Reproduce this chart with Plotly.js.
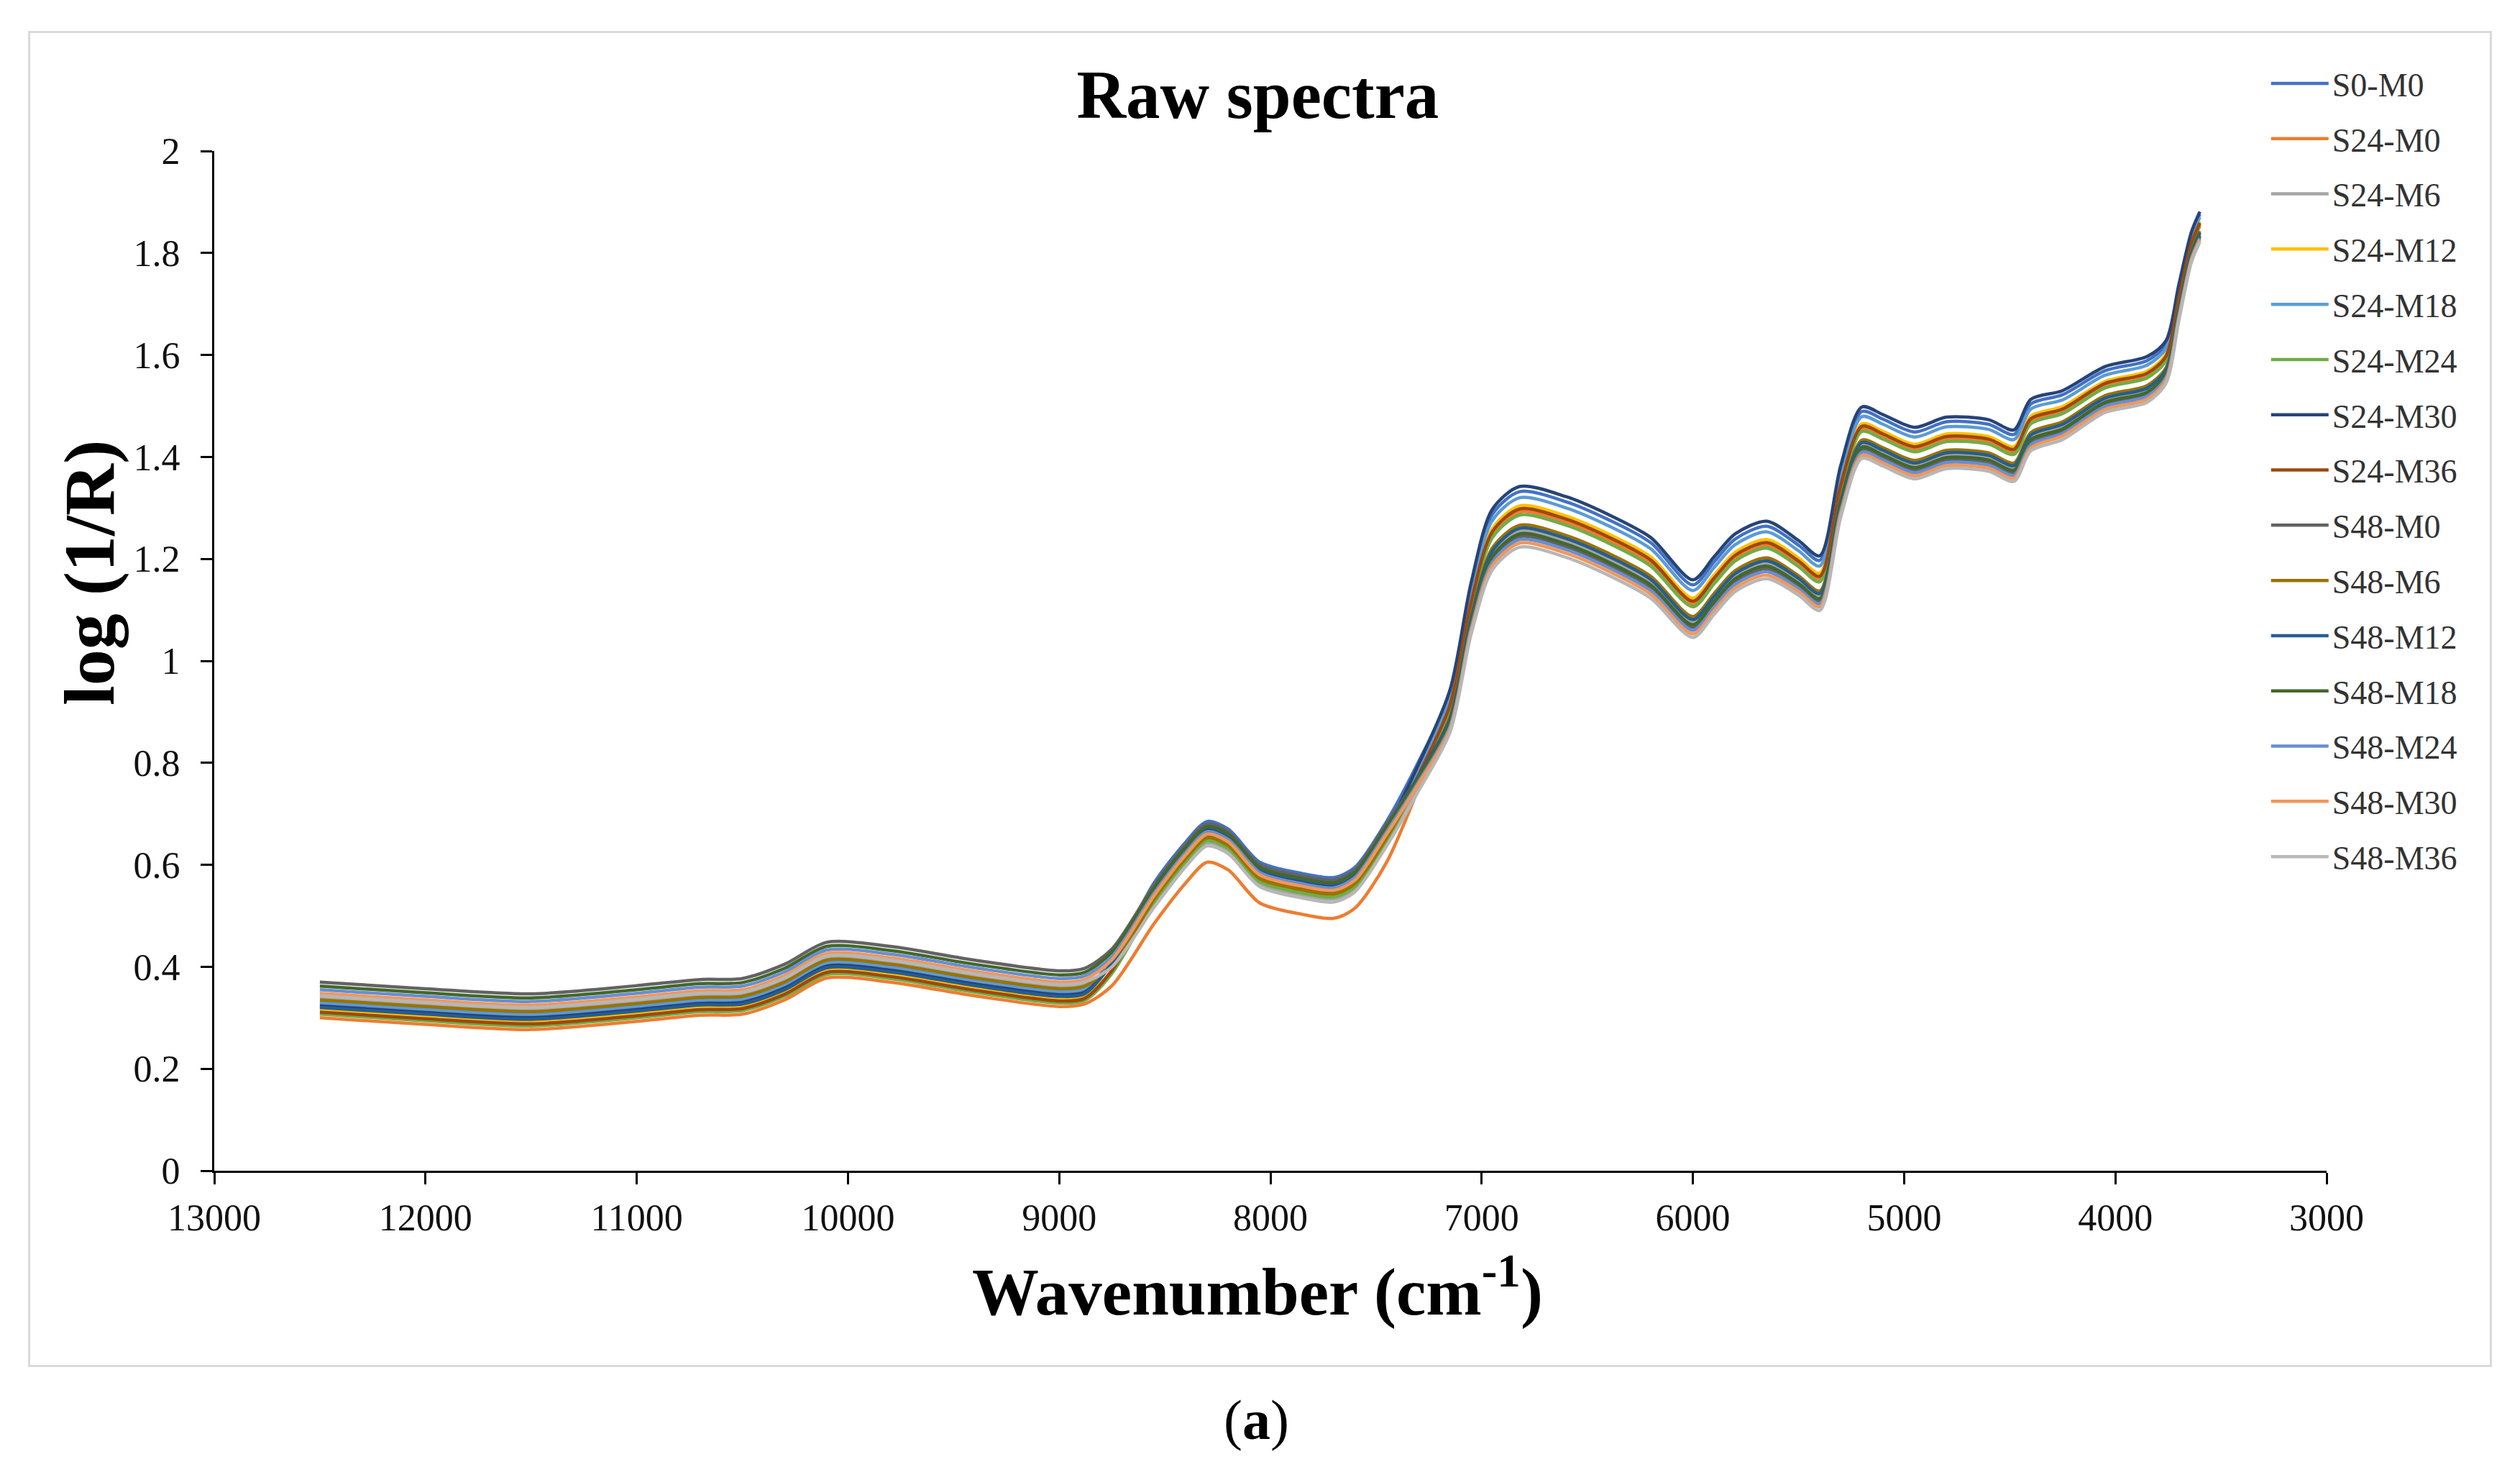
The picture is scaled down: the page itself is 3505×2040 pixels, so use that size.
<!DOCTYPE html>
<html>
<head>
<meta charset="utf-8">
<script src="https://cdn.plot.ly/plotly-3.0.1.min.js"></script>
<style>
  html, body { margin: 0; padding: 0; background: #ffffff; }
  #frame { position: absolute; left: 39px; top: 43px; width: 3421px; height: 1852px; border: 3px solid #d9d9d9; box-sizing: content-box; }
  #chart { position: absolute; left: 0; top: 0; width: 3505px; height: 2040px; }
</style>
</head>
<body>
<div id="frame"></div>
<div id="chart"></div>
<script>
const wavenumber = [12500,12000,11500,11000,10700,10500,10300,10100,9800,9400,9000,8880,8750,8550,8400,8300,8200,8050,7850,7700,7600,7450,7300,7150,7050,6950,6820,6600,6400,6200,6000,5900,5800,5650,5500,5400,5300,5200,5100,4950,4800,4600,4480,4400,4250,4050,3850,3760,3700,3640,3600];

const s0m0   = [0.327,0.314,0.304,0.320,0.332,0.334,0.362,0.405,0.397,0.370,0.349,0.354,0.416,0.565,0.645,0.685,0.670,0.605,0.583,0.575,0.595,0.685,0.801,0.936,1.144,1.287,1.332,1.312,1.277,1.232,1.149,1.194,1.239,1.264,1.227,1.197,1.374,1.489,1.474,1.449,1.469,1.464,1.444,1.504,1.522,1.569,1.589,1.621,1.731,1.836,1.876];
const s24m0  = [0.300,0.287,0.277,0.293,0.305,0.307,0.335,0.378,0.370,0.343,0.322,0.327,0.363,0.485,0.565,0.605,0.590,0.525,0.503,0.495,0.515,0.605,0.749,0.908,1.110,1.247,1.292,1.272,1.237,1.192,1.111,1.156,1.201,1.226,1.191,1.161,1.340,1.455,1.440,1.415,1.435,1.430,1.410,1.470,1.490,1.539,1.559,1.593,1.707,1.816,1.856];
const s24m6  = [0.340,0.327,0.317,0.333,0.345,0.347,0.375,0.418,0.410,0.383,0.362,0.367,0.402,0.523,0.603,0.643,0.628,0.563,0.541,0.533,0.553,0.643,0.756,0.882,1.078,1.209,1.254,1.234,1.199,1.154,1.075,1.120,1.165,1.190,1.157,1.127,1.308,1.423,1.408,1.383,1.403,1.398,1.378,1.438,1.459,1.511,1.531,1.567,1.684,1.797,1.837];
const s24m12 = [0.315,0.302,0.292,0.308,0.320,0.322,0.350,0.393,0.385,0.358,0.337,0.342,0.393,0.531,0.611,0.651,0.636,0.571,0.549,0.541,0.561,0.651,0.775,0.917,1.120,1.259,1.304,1.284,1.249,1.204,1.123,1.168,1.213,1.238,1.202,1.172,1.350,1.465,1.450,1.425,1.445,1.440,1.420,1.480,1.499,1.548,1.568,1.602,1.714,1.822,1.862];
const s24m18 = [0.330,0.317,0.307,0.323,0.335,0.337,0.365,0.408,0.400,0.373,0.352,0.357,0.409,0.547,0.627,0.667,0.652,0.587,0.565,0.557,0.577,0.667,0.788,0.928,1.134,1.275,1.320,1.300,1.265,1.220,1.138,1.183,1.228,1.253,1.216,1.186,1.364,1.479,1.464,1.439,1.459,1.454,1.434,1.494,1.512,1.560,1.580,1.613,1.724,1.830,1.870];
const s24m24 = [0.307,0.294,0.284,0.300,0.312,0.314,0.342,0.385,0.377,0.350,0.329,0.334,0.387,0.527,0.607,0.647,0.632,0.567,0.545,0.537,0.557,0.647,0.768,0.904,1.105,1.241,1.286,1.266,1.231,1.186,1.106,1.151,1.196,1.221,1.185,1.155,1.335,1.450,1.435,1.410,1.430,1.425,1.405,1.465,1.485,1.535,1.555,1.589,1.704,1.813,1.853];
const s24m30 = [0.323,0.310,0.300,0.316,0.328,0.330,0.358,0.401,0.393,0.366,0.345,0.350,0.407,0.550,0.630,0.670,0.655,0.590,0.568,0.560,0.580,0.670,0.796,0.943,1.153,1.297,1.342,1.322,1.287,1.242,1.159,1.204,1.249,1.274,1.236,1.206,1.383,1.498,1.483,1.458,1.478,1.473,1.453,1.513,1.530,1.577,1.597,1.628,1.737,1.841,1.881];
const s24m36 = [0.311,0.298,0.288,0.304,0.316,0.318,0.346,0.389,0.381,0.354,0.333,0.338,0.393,0.535,0.615,0.655,0.640,0.575,0.553,0.545,0.565,0.655,0.775,0.913,1.115,1.253,1.298,1.278,1.243,1.198,1.117,1.162,1.207,1.232,1.196,1.166,1.345,1.460,1.445,1.420,1.440,1.435,1.415,1.475,1.494,1.544,1.564,1.598,1.711,1.819,1.859];
const s48m0  = [0.370,0.357,0.347,0.363,0.375,0.377,0.405,0.448,0.440,0.413,0.392,0.397,0.435,0.560,0.640,0.680,0.665,0.600,0.578,0.570,0.590,0.680,0.772,0.875,1.069,1.199,1.244,1.224,1.189,1.144,1.066,1.111,1.156,1.181,1.148,1.118,1.299,1.414,1.399,1.374,1.394,1.389,1.369,1.429,1.451,1.503,1.523,1.560,1.678,1.792,1.832];
const s48m6  = [0.335,0.322,0.312,0.328,0.340,0.342,0.370,0.413,0.405,0.378,0.357,0.362,0.404,0.533,0.613,0.653,0.638,0.573,0.551,0.543,0.563,0.653,0.765,0.890,1.088,1.221,1.266,1.246,1.211,1.166,1.087,1.132,1.177,1.202,1.167,1.137,1.318,1.433,1.418,1.393,1.413,1.408,1.388,1.448,1.469,1.520,1.540,1.575,1.692,1.803,1.843];
const s48m12 = [0.320,0.307,0.297,0.313,0.325,0.327,0.355,0.398,0.390,0.363,0.342,0.347,0.407,0.553,0.633,0.673,0.658,0.593,0.571,0.563,0.583,0.673,0.773,0.886,1.083,1.215,1.260,1.240,1.205,1.160,1.081,1.126,1.171,1.196,1.162,1.132,1.313,1.428,1.413,1.388,1.408,1.403,1.383,1.443,1.464,1.515,1.535,1.571,1.688,1.800,1.840];
const s48m18 = [0.362,0.349,0.339,0.355,0.367,0.369,0.397,0.440,0.432,0.405,0.384,0.389,0.429,0.555,0.635,0.675,0.660,0.595,0.573,0.565,0.585,0.675,0.771,0.878,1.074,1.204,1.249,1.229,1.194,1.149,1.071,1.116,1.161,1.186,1.152,1.122,1.304,1.419,1.404,1.379,1.399,1.394,1.374,1.434,1.455,1.507,1.527,1.563,1.681,1.794,1.834];
const s48m24 = [0.355,0.342,0.332,0.348,0.360,0.362,0.390,0.433,0.425,0.398,0.377,0.382,0.420,0.545,0.625,0.665,0.650,0.585,0.563,0.555,0.575,0.665,0.762,0.871,1.064,1.193,1.238,1.218,1.183,1.138,1.060,1.105,1.150,1.175,1.142,1.112,1.294,1.409,1.394,1.369,1.389,1.384,1.364,1.424,1.446,1.499,1.519,1.556,1.675,1.789,1.829];
const s48m30 = [0.348,0.335,0.325,0.341,0.353,0.355,0.383,0.426,0.418,0.391,0.370,0.375,0.414,0.540,0.620,0.660,0.645,0.580,0.558,0.550,0.570,0.660,0.758,0.866,1.058,1.186,1.231,1.211,1.176,1.131,1.053,1.098,1.143,1.168,1.136,1.106,1.288,1.403,1.388,1.363,1.383,1.378,1.358,1.418,1.441,1.493,1.513,1.551,1.671,1.786,1.826];
const s48m36 = [0.343,0.330,0.320,0.336,0.348,0.350,0.378,0.421,0.413,0.386,0.365,0.370,0.400,0.517,0.597,0.637,0.622,0.557,0.535,0.527,0.547,0.637,0.744,0.860,1.052,1.178,1.223,1.203,1.168,1.123,1.046,1.091,1.136,1.161,1.129,1.099,1.282,1.397,1.382,1.357,1.377,1.372,1.352,1.412,1.434,1.487,1.507,1.545,1.666,1.782,1.822];

const seriesNames = ["S0-M0","S24-M0","S24-M6","S24-M12","S24-M18","S24-M24","S24-M30","S24-M36","S48-M0","S48-M6","S48-M12","S48-M18","S48-M24","S48-M30","S48-M36"];
const seriesValues = [s0m0,s24m0,s24m6,s24m12,s24m18,s24m24,s24m30,s24m36,s48m0,s48m6,s48m12,s48m18,s48m24,s48m30,s48m36];
const seriesColors = ["#4472C4","#ED7D31","#A5A5A5","#FFC000","#5B9BD5","#70AD47","#264478","#9E480E","#636363","#997300","#255E91","#43682B","#698ED0","#F1975A","#B7B7B7"];

const xTicks = [13000,12000,11000,10000,9000,8000,7000,6000,5000,4000,3000];
const yTicks = [0,0.2,0.4,0.6,0.8,1,1.2,1.4,1.6,1.8,2];

const FONT = '"Liberation Serif", "Times New Roman", serif';

const traces = seriesNames.map((name, i) => ({
  type: 'scatter',
  mode: 'lines',
  name: name,
  legendgroup: name,
  x: wavenumber,
  y: seriesValues[i],
  line: { color: seriesColors[i], width: 4.5, shape: 'spline', smoothing: 0.8 }
}));

const layout = {
  width: 3505,
  height: 2040,
  paper_bgcolor: 'rgba(0,0,0,0)',
  plot_bgcolor: 'rgba(0,0,0,0)',
  margin: { l: 298, r: 269, t: 210, b: 412 },
  font: { family: FONT, color: '#000000' },
  title: {
    text: '<b>Raw spectra</b>',
    font: { family: FONT, size: 95, color: '#000000' },
    xref: 'paper', x: 0.494, xanchor: 'center',
    yref: 'container', y: 0.936, yanchor: 'middle'
  },
  xaxis: {
    range: [13000, 3000],
    tickmode: 'array', tickvals: xTicks, ticktext: xTicks.map(String),
    showgrid: false, zeroline: false,
    showline: true, linecolor: '#000000', linewidth: 3,
    ticks: 'outside', ticklen: 16, tickwidth: 3, tickcolor: '#000000',
    tickfont: { family: FONT, size: 52, color: '#111111' },
    ticklabelstandoff: 2
  },
  yaxis: {
    range: [0, 2],
    tickmode: 'array', tickvals: yTicks, ticktext: yTicks.map(String),
    showgrid: false, zeroline: false,
    showline: true, linecolor: '#000000', linewidth: 3,
    ticks: 'outside', ticklen: 16, tickwidth: 3, tickcolor: '#000000',
    tickfont: { family: FONT, size: 52, color: '#111111' },
    ticklabelstandoff: 18
  },
  showlegend: true,
  legend: {
    x: 0.972, xanchor: 'left',
    y: 1.092, yanchor: 'top',
    font: { family: FONT, size: 46, color: '#333333' },
    tracegroupgap: 14,
    itemwidth: 80,
    maxheight: 1500,
    bgcolor: 'rgba(0,0,0,0)'
  },
  annotations: [
    {
      text: '<b>Wavenumber (cm<sup>-1</sup>)</b>',
      xref: 'paper', yref: 'paper', x: 0.494, y: -0.114,
      xanchor: 'center', yanchor: 'middle', showarrow: false,
      font: { family: FONT, size: 93, color: '#000000' }
    },
    {
      text: '<b>log (1/R)</b>',
      xref: 'paper', yref: 'paper', x: -0.0592, y: 0.586,
      xanchor: 'center', yanchor: 'middle', showarrow: false, textangle: -90,
      font: { family: FONT, size: 100, color: '#000000' }
    },
    {
      text: '(<b>a</b>)',
      xref: 'paper', yref: 'paper', x: 0.4935, y: -0.2447,
      xanchor: 'center', yanchor: 'middle', showarrow: false,
      font: { family: FONT, size: 78, color: '#000000' }
    }
  ]
};

Plotly.newPlot('chart', traces, layout, { displayModeBar: false, staticPlot: true });
</script>
</body>
</html>
